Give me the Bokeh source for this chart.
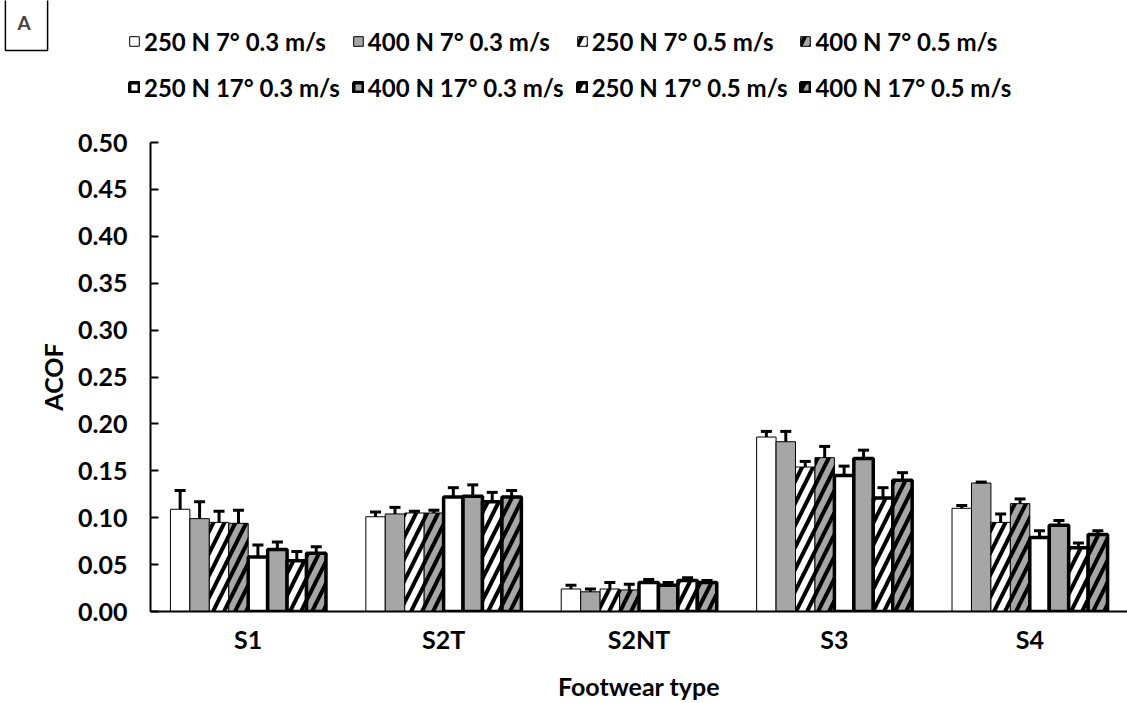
from bokeh.plotting import figure
from bokeh.layouts import column
from bokeh.models import (ColumnDataSource, FactorRange, Range1d, Whisker, TeeHead,
                          FixedTicker, NumeralTickFormatter, Label)
from bokeh.transform import dodge
from bokeh.embed import file_html
from bokeh.resources import INLINE

categories = ["S1", "S2T", "S2NT", "S3", "S4"]

series_names = ["250 N 7° 0.3 m/s", "400 N 7° 0.3 m/s", "250 N 7° 0.5 m/s", "400 N 7° 0.5 m/s",
                "250 N 17° 0.3 m/s", "400 N 17° 0.3 m/s", "250 N 17° 0.5 m/s", "400 N 17° 0.5 m/s"]

v_250_7_03 = [0.109, 0.101, 0.024, 0.186, 0.110]
e_250_7_03 = [0.020, 0.005, 0.004, 0.006, 0.003]
v_400_7_03 = [0.099, 0.104, 0.021, 0.181, 0.137]
e_400_7_03 = [0.018, 0.007, 0.003, 0.011, 0.001]
v_250_7_05 = [0.095, 0.105, 0.024, 0.154, 0.095]
e_250_7_05 = [0.012, 0.002, 0.007, 0.006, 0.009]
v_400_7_05 = [0.094, 0.105, 0.023, 0.164, 0.115]
e_400_7_05 = [0.014, 0.003, 0.006, 0.012, 0.005]
v_250_17_03 = [0.058, 0.122, 0.031, 0.145, 0.079]
e_250_17_03 = [0.013, 0.010, 0.003, 0.010, 0.007]
v_400_17_03 = [0.066, 0.123, 0.028, 0.163, 0.092]
e_400_17_03 = [0.008, 0.012, 0.003, 0.009, 0.005]
v_250_17_05 = [0.054, 0.117, 0.033, 0.121, 0.068]
e_250_17_05 = [0.010, 0.010, 0.003, 0.011, 0.005]
v_400_17_05 = [0.062, 0.122, 0.031, 0.140, 0.082]
e_400_17_05 = [0.007, 0.007, 0.002, 0.008, 0.004]

values = [v_250_7_03, v_400_7_03, v_250_7_05, v_400_7_05,
          v_250_17_03, v_400_17_03, v_250_17_05, v_400_17_05]
errors = [e_250_7_03, e_400_7_03, e_250_7_05, e_400_7_05,
          e_250_17_03, e_400_17_03, e_250_17_05, e_400_17_05]

y_ticks = [0.0, 0.05, 0.10, 0.15, 0.20, 0.25, 0.30, 0.35, 0.40, 0.45, 0.50]

FONT = "Lato"
FS = "25px"
GRAY = "#a6a6a6"
fills = ["white", GRAY, "white", GRAY, "white", GRAY, "white", GRAY]
hatched = [False, False, True, True, False, False, True, True]
widths = [1, 1, 1, 1, 3.5, 3.5, 3.5, 3.5]


def style_kw(i):
    kw = dict(fill_color=fills[i], line_color="black", line_width=widths[i])
    if hatched[i]:
        kw.update(hatch_pattern="/", hatch_color="black", hatch_weight=4, hatch_scale=22)
    return kw


sources = []
for i in range(8):
    sources.append(ColumnDataSource(dict(cat=categories, val=values[i],
                                         up=[v + e for v, e in zip(values[i], errors[i])])))

bw = 0.0995

# ---------- top strip: panel letter + legend (proxy renderers hidden) ----------
TOP_H = 122
top = figure(width=1127, height=TOP_H, x_range=FactorRange(*categories), y_range=Range1d(10, 11),
             x_axis_type=None, y_axis_type=None, output_backend="svg", toolbar_location=None,
             min_border_left=0, min_border_right=0, min_border_top=0, min_border_bottom=0)
top.frame_align = False
top.outline_line_color = None
top.grid.visible = False
for i in range(8):
    off = (i - 3.5) * bw
    r = top.vbar(x=dodge("cat", off, range=top.x_range), top="val", width=bw, source=sources[i],
                 legend_label=series_names[i], **style_kw(i))
    r.visible = False

leg = top.legend[0]
leg.orientation = "horizontal"
leg.ncols = 4
leg.location = (128, 18)
leg.padding = 0
leg.margin = 0
leg.spacing = 12
leg.label_standoff = 4
leg.glyph_width = 12
leg.glyph_height = 12
leg.label_height = 34
leg.label_text_font = FONT
leg.label_text_font_style = "bold"
leg.label_text_font_size = "24px"
leg.label_text_color = "black"
leg.border_line_alpha = 0
leg.background_fill_alpha = 0
leg.inactive_fill_alpha = 0

lab = Label(x=26, y=TOP_H - 24, x_units="screen", y_units="screen", text="A",
            text_font=FONT, text_font_style="bold", text_font_size="19px",
            text_align="center", text_baseline="middle",
            border_line_color="black", border_line_width=1.5,
            background_fill_color="white", padding=(12, 17, 12, 17))
top.add_layout(lab)

# ---------- main chart ----------
p = figure(width=1127, height=703 - TOP_H, x_range=FactorRange(*categories), y_range=Range1d(0, 0.5),
           output_backend="svg", toolbar_location=None,
           min_border_left=150, min_border_right=0, min_border_top=20, min_border_bottom=91)
p.frame_align = False
p.outline_line_color = None
p.xgrid.grid_line_color = None
p.ygrid.grid_line_color = None

for i in range(8):
    off = (i - 3.5) * bw
    p.vbar(x=dodge("cat", off, range=p.x_range), top="val", width=bw, source=sources[i], **style_kw(i))
    w = Whisker(source=sources[i], base=dodge("cat", off, range=p.x_range), upper="up", lower="val",
                line_width=3, line_color="black",
                upper_head=TeeHead(size=11, line_width=3, line_color="black"), lower_head=None,
                level="annotation")
    p.add_layout(w)

p.yaxis.ticker = FixedTicker(ticks=y_ticks)
p.yaxis.formatter = NumeralTickFormatter(format="0.00")
p.yaxis.minor_tick_line_color = None
p.yaxis.major_tick_in = 8
p.yaxis.major_tick_out = 0
p.yaxis.major_tick_line_width = 2
p.yaxis.axis_line_width = 2
p.yaxis.major_label_standoff = 23
p.yaxis.axis_label = "ACOF"
p.yaxis.axis_label_standoff = 7

p.xaxis.major_tick_line_color = None
p.xaxis.minor_tick_line_color = None
p.xaxis.axis_line_width = 2
p.xaxis.major_label_standoff = 6
p.xaxis.axis_label = "Footwear type"
p.xaxis.axis_label_standoff = 14

for ax in (p.xaxis, p.yaxis):
    ax.major_label_text_font = FONT
    ax.major_label_text_font_style = "bold"
    ax.major_label_text_font_size = FS
    ax.major_label_text_color = "black"
    ax.axis_label_text_font = FONT
    ax.axis_label_text_font_style = "bold"
    ax.axis_label_text_font_size = FS
    ax.axis_label_text_color = "black"
    ax.axis_line_color = "black"

layout = column(top, p, spacing=0)
open("out.html", "w").write(file_html(layout, INLINE))
